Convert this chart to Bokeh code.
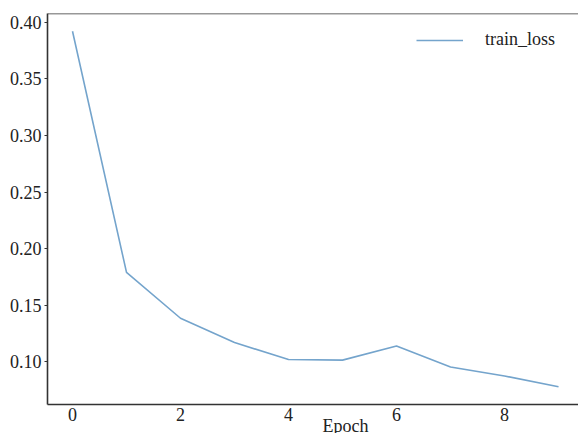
from bokeh.plotting import figure
from bokeh.models import Range1d, Span, Title, Legend, LegendItem, FixedTicker, CustomJSTickFormatter
from bokeh.embed import file_html
from bokeh.resources import INLINE

epochs = [0, 1, 2, 3, 4, 5, 6, 7, 8, 9]
train_loss = [0.392, 0.179, 0.1385, 0.117, 0.102, 0.1015, 0.114, 0.0955, 0.0875, 0.078]
x_ticks = [0, 2, 4, 6, 8]
y_ticks = [0.10, 0.15, 0.20, 0.25, 0.30, 0.35, 0.40]

FONT = "Liberation Serif"
FS = "18px"
AXC = "#333333"
Y0, Y1 = 0.0623, 0.4077

p = figure(width=578, height=433, output_backend="svg", toolbar_location=None,
           x_range=Range1d(-0.463, 9.37), y_range=Range1d(Y0, Y1),
           min_border_left=47, min_border_top=13, min_border_bottom=29, min_border_right=0)
p.outline_line_color = None
p.xgrid.grid_line_color = None
p.ygrid.grid_line_color = None
p.background_fill_color = "white"
p.border_fill_color = "white"

r = p.line(epochs, train_loss, line_color="#74a4cc", line_width=1.6)

for ax in (p.xaxis[0], p.yaxis[0]):
    ax.axis_line_color = AXC
    ax.axis_line_width = 1.6
    ax.major_tick_line_color = AXC
    ax.major_tick_line_width = 1.2
    ax.minor_tick_line_color = None
    ax.major_tick_in = 0
    ax.major_label_text_font = FONT
    ax.major_label_text_font_size = FS
    ax.major_label_text_color = "#222222"

p.xaxis[0].ticker = FixedTicker(ticks=x_ticks)
p.yaxis[0].ticker = FixedTicker(ticks=y_ticks)
p.xaxis[0].major_tick_out = 0
p.xaxis[0].major_label_standoff = 3
p.yaxis[0].major_tick_out = 3
p.yaxis[0].major_label_standoff = 3
p.yaxis[0].formatter = CustomJSTickFormatter(code="return tick.toFixed(2);")

p.add_layout(Span(location=Y1, dimension="width", line_color=AXC, line_width=1.6))

xlabel = Title(text="Epoch", align="left", offset=275, standoff=-16, vertical_align="top",
               text_font=FONT, text_font_size=FS, text_font_style="normal", text_color="#222222")
p.add_layout(xlabel, "below")

legend = Legend(items=[LegendItem(label="train_loss", renderers=[r])],
                location=(369, 354), padding=0, margin=0, spacing=0,
                glyph_width=47, label_standoff=22,
                label_text_font=FONT, label_text_font_size=FS, label_text_color="#222222",
                border_line_color=None, background_fill_alpha=0)
p.add_layout(legend)

open("out.html", "w").write(file_html(p, INLINE))
